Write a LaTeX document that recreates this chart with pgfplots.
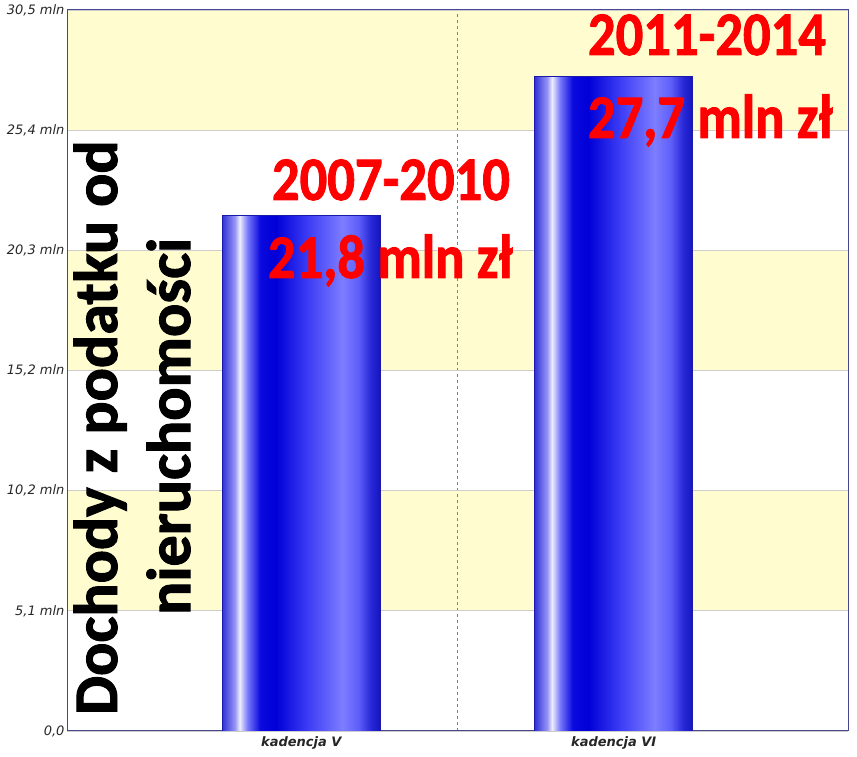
\documentclass[border=0pt]{standalone}
\usepackage{pgfplots}
\pgfplotsset{compat=1.18}
\usepackage{fontspec}
\setmainfont{DejaVu Sans}
\newfontfamily\calib{Carlito}[BoldFeatures={FakeBold=1.6}]
\definecolor{bandyellow}{RGB}{255,252,208}
\definecolor{gridgray}{RGB}{205,205,205}
\definecolor{axisblue}{RGB}{70,70,145}
\definecolor{bedge}{RGB}{25,25,170}
\definecolor{sha}{RGB}{50,50,215}
\definecolor{shb}{RGB}{150,150,245}
\definecolor{shc}{RGB}{238,238,255}
\definecolor{shd}{RGB}{120,120,250}
\definecolor{she}{RGB}{10,10,222}
\definecolor{shf}{RGB}{0,0,215}
\definecolor{shg}{RGB}{60,60,245}
\definecolor{shh}{RGB}{125,125,255}
\definecolor{shi}{RGB}{95,95,250}
\definecolor{shj}{RGB}{40,40,215}
\definecolor{shk}{RGB}{20,20,190}
\pgfdeclarehorizontalshading{barshade}{100bp}{color(0bp)=(sha); color(25bp)=(sha); color(29bp)=(shb); color(30.5bp)=(shc); color(33bp)=(shd); color(37bp)=(she); color(42bp)=(shf); color(52bp)=(shg); color(63bp)=(shh); color(68bp)=(shi); color(72bp)=(shj); color(75bp)=(shk); color(100bp)=(shk)}
\begin{document}
\begin{tikzpicture}
\begin{axis}[
  set layers,
  at={(67pt,26pt)}, anchor=south west,
  scale only axis, width=781pt, height=721pt,
  xmin=0, xmax=2, ymin=0, ymax=30.5,
  axis line style={draw=axisblue, line width=1pt},
  xtick={0.6,1.4},
  xticklabels={kadencja V, kadencja VI},
  xticklabel style={font=\bfseries\itshape\fontsize{13}{15}\selectfont, text=black!85, yshift=-2pt},
  ytick={0,5.08333,10.16667,15.25,20.33333,25.41667,30.5},
  yticklabels={{0,0},{5,1 mln},{10,2 mln},{15,2 mln},{20,3 mln},{25,4 mln},{30,5 mln}},
  yticklabel style={font=\itshape\fontsize{13}{15}\selectfont, text=black!85, xshift=1pt},
  major tick length=0pt,
  ymajorgrids, grid style={gridgray, line width=0.8pt},
]
\begin{pgfonlayer}{axis background}
\fill[bandyellow] (axis cs:0,5.08333) rectangle (axis cs:2,10.16667);
\fill[bandyellow] (axis cs:0,15.25) rectangle (axis cs:2,20.33333);
\fill[bandyellow] (axis cs:0,25.41667) rectangle (axis cs:2,30.5);
\draw[gray, dashed, line width=0.7pt] (axis cs:1,0) -- (axis cs:1,30.5);
\end{pgfonlayer}
\addplot[ybar, bar width=158pt, bar shift=0pt, draw=bedge, line width=0.6pt, shade, shading=barshade] coordinates {(0.6,21.8)};
\addplot[ybar, bar width=158pt, bar shift=0pt, draw=bedge, line width=0.6pt, shade, shading=barshade] coordinates {(1.4,27.7)};
\end{axis}
\begin{scope}[every node/.style={inner sep=0pt, outer sep=0pt}]
\node[anchor=base west, text=red, xscale=0.88, font=\calib\bfseries\fontsize{62}{62}\selectfont] at (272pt,557pt) {2007-2010};
\node[anchor=base west, text=red, xscale=0.88, font=\calib\bfseries\fontsize{62}{62}\selectfont] at (268pt,479pt) {21,8 mln zł};
\node[anchor=base west, text=red, xscale=0.88, font=\calib\bfseries\fontsize{62}{62}\selectfont] at (588pt,702pt) {2011-2014};
\node[anchor=base west, text=red, xscale=0.88, font=\calib\bfseries\fontsize{62}{62}\selectfont] at (588pt,619pt) {27,7 mln zł};
\node[anchor=base west, rotate=90, text=black, font=\calib\bfseries\fontsize{62}{62}\selectfont] at (117pt,42pt) {Dochody z podatku od};
\node[anchor=base west, rotate=90, text=black, font=\calib\bfseries\fontsize{62}{62}\selectfont] at (190pt,142pt) {nieruchomości};
\end{scope}
\pgfresetboundingbox
\useasboundingbox (0pt,0pt) rectangle (857pt,757pt);
\end{tikzpicture}
\end{document}
